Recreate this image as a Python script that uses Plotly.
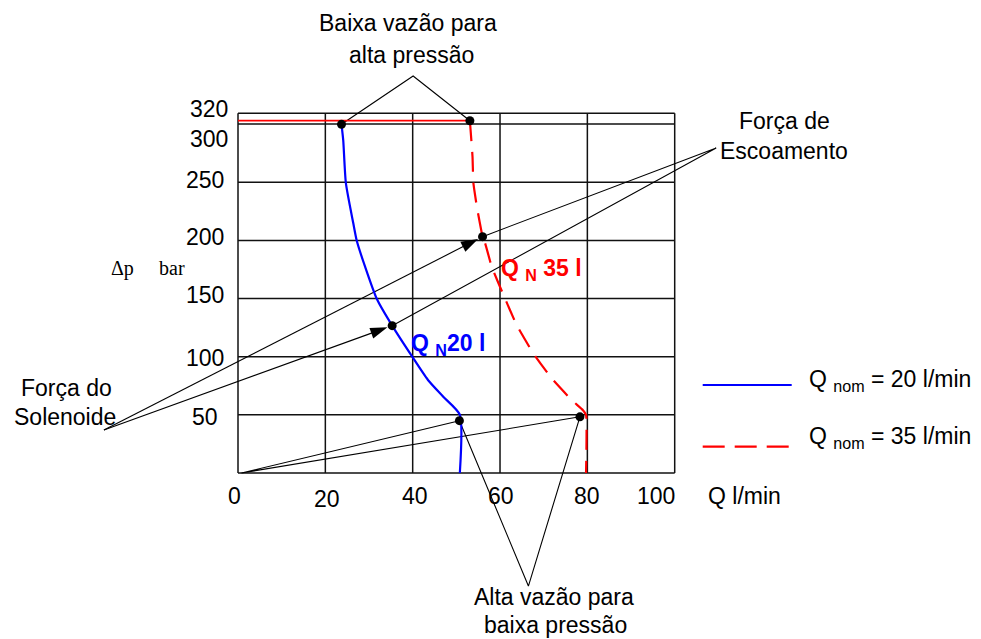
import math
import plotly.graph_objects as go

# ---------------- data (Q in l/min, delta p in bar) ----------------
# Q_nom = 20 l/min characteristic (solid blue)
Q20 = [23.7, 24.1, 24.7, 26.4, 27.2, 29.1, 31.8, 35.3, 39.9, 43.5, 47.0, 50.8, 50.8]
DP20 = [299.8, 286.0, 249.4, 214.7, 199.7, 177.4, 149.6, 126.7, 100.0, 80.0, 65.6, 50.1, 0.0]

# Q_nom = 35 l/min characteristic (dashed red)
Q35 = [53.1, 53.7, 53.9, 54.7, 56.0, 56.6, 58.1, 60.8, 63.8, 67.6, 71.8, 76.4, 79.0, 79.7, 79.7]
DP35 = [302.9, 272.0, 249.4, 229.0, 203.2, 197.5, 177.4, 153.0, 127.3, 103.0, 81.5, 62.8, 54.0, 50.0, 0.0]

# pressure-limit line (solid red, thin)
LIMIT_Q = [0.0, 53.1]
LIMIT_DP = [303.0, 303.0]

# marked points on the curves
PT_NAMES = ["baixa20", "baixa35", "mid35", "mid20", "alta20", "alta35"]
PT_Q = [23.7, 53.1, 56.0, 35.3, 50.7, 78.3]
PT_DP = [299.8, 302.9, 203.2, 126.7, 45.0, 48.3]

# points where the leader lines of each callout meet
CALLOUT_BAIXA = (40.1, 341.4)
CALLOUT_ESCOAMENTO = (109.5, 279.4)
CALLOUT_SOLENOIDE = (-30.7, 37.0)
CALLOUT_ORIGEM = (0.8, 0.0)
CALLOUT_ALTA = (66.5, -97.2)

# axes / grid
X_TICKS = [0, 20, 40, 60, 80, 100]
X_TICK_TEXT = ["0", "20", "40", "60", "80", "100"]
Y_GRID = [0, 50, 100, 150, 200, 250, 300]
Y_TICKS = [50, 100, 150, 200, 250, 300, 320]
Y_TICK_TEXT = ["50", "100", "150", "200", "250", "300", "320"]
Y_TOP = 309.3

LEGEND_TEXT = ["Q <sub>nom</sub> = 20 l/min", "Q <sub>nom</sub> = 35 l/min"]
CURVE_LABELS = ["Q <sub>N</sub>20 l", "Q <sub>N</sub> 35 l"]

# ---------------- layout helpers ----------------
W, H = 981, 639
X0_PX, Y0_PX = 238.0, 473.0      # pixel position of (0, 0)
PXX, PXY = 4.367, 1.163          # pixels per data unit
XR = [-X0_PX / PXX, (W - X0_PX) / PXX]
YR = [-(H - Y0_PX) / PXY, Y0_PX / PXY]

FONT = "Liberation Sans, Arial, sans-serif"
BLUE = "#0000ff"
RED = "#ff0000"


def paper(px, py):
    return px / W, 1 - py / H


pts = {n: (q, p) for n, q, p in zip(PT_NAMES, PT_Q, PT_DP)}

fig = go.Figure()

# grid as shapes in data coordinates
shapes = []
for xv in X_TICKS:
    shapes.append(dict(type="line", xref="x", yref="y", x0=xv, x1=xv, y0=0, y1=Y_TOP,
                       line=dict(color="#111", width=1.5), layer="below"))
for yv in Y_GRID + [Y_TOP]:
    shapes.append(dict(type="line", xref="x", yref="y", x0=0, x1=100, y0=yv, y1=yv,
                       line=dict(color="#111", width=1.5), layer="below"))

# leader lines (thin black)
leader_style = dict(color="black", width=1.1)


def leader(a, via, b):
    fig.add_trace(go.Scatter(x=[a[0], via[0], b[0]], y=[a[1], via[1], b[1]], mode="lines",
                             line=leader_style, hoverinfo="skip", showlegend=False))


leader(pts["baixa20"], CALLOUT_BAIXA, pts["baixa35"])
leader(pts["mid20"], CALLOUT_ESCOAMENTO, pts["mid35"])
leader(pts["alta20"], CALLOUT_ORIGEM, pts["alta35"])
leader(pts["alta20"], CALLOUT_ALTA, pts["alta35"])

# solenoid-force arrows
STANDOFF_PX = 5.0
for name in ["mid35", "mid20"]:
    tx, ty = pts[name]
    sx, sy = CALLOUT_SOLENOIDE
    dxp, dyp = (sx - tx) * PXX, (sy - ty) * PXY
    frac = STANDOFF_PX / math.hypot(dxp, dyp)
    tipx, tipy = tx + (sx - tx) * frac, ty + (sy - ty) * frac
    fig.add_trace(go.Scatter(
        x=[sx, tipx], y=[sy, tipy], mode="lines+markers",
        line=leader_style,
        marker=dict(symbol=["circle", "arrow"], size=[1, 18], opacity=[0, 1],
                    angleref="previous", color="black", line=dict(width=0)),
        hoverinfo="skip", showlegend=False))

# curves
fig.add_trace(go.Scatter(x=LIMIT_Q, y=LIMIT_DP, mode="lines",
                         line=dict(color=RED, width=1.6), showlegend=False, hoverinfo="skip"))
fig.add_trace(go.Scatter(x=Q20, y=DP20, mode="lines",
                         line=dict(color=BLUE, width=2.2, shape="spline", smoothing=0.6),
                         showlegend=False, name="Q nom = 20 l/min"))
fig.add_trace(go.Scatter(x=Q35, y=DP35, mode="lines",
                         line=dict(color=RED, width=2.2, dash="20px,11px", shape="spline", smoothing=0.4),
                         showlegend=False, name="Q nom = 35 l/min"))

# marked points
fig.add_trace(go.Scatter(x=PT_Q, y=PT_DP, mode="markers",
                         marker=dict(color="black", size=9), showlegend=False, hoverinfo="skip"))

annotations = []


def text(t, x, y, ref="paper", size=23, xanchor="center", color="black", family=FONT, weight="normal",
         xshift=0, yshift=0):
    annotations.append(dict(x=x, y=y, xref="x" if ref == "data" else "paper",
                            yref="y" if ref == "data" else "paper", text=t, showarrow=False,
                            xanchor=xanchor, yanchor="middle", xshift=xshift, yshift=yshift,
                            font=dict(family=family, size=size, color=color, weight=weight)))


# x tick labels
x_off = {"0": (-4, 0), "20": (2, -3), "40": (2, 0), "60": (1, 0), "80": (0, 0), "100": (-19, 0)}
for xv, t in zip(X_TICKS, X_TICK_TEXT):
    dx, dy = x_off[t]
    text(t, xv, 0, ref="data", xshift=dx, yshift=-22.5 + dy)
text("Q l/min", 100, 0, ref="data", xshift=744 - 674.7, yshift=-22.5)

# y tick labels
y_off = {"50": (-33, -2.3), "100": (-33, -1.6), "150": (-33, 3.5), "200": (-33, 3.7),
         "250": (-33, 2.5), "300": (-29.5, -15), "320": (-29.5, -8.5)}
for yv, t in zip(Y_TICKS, Y_TICK_TEXT):
    dx, dy = y_off[t]
    text(t, 0, yv, ref="data", xshift=dx, yshift=dy)

# axis title "Δp bar"
for t, px in [("Δp", 123), ("bar", 172)]:
    x, y = paper(px, 268)
    text(t, x, y, size=20, family="Liberation Serif, Times New Roman, serif")

# callout texts
CALLOUT_TEXT = [("Baixa vazão para", 407.5, 23.3), ("alta pressão", 411, 55),
                ("Força de", 784, 121), ("Escoamento", 784, 151),
                ("Força do", 66, 388), ("Solenoide", 65.3, 416.7),
                ("Alta vazão para", 554, 596.5), ("baixa pressão", 555, 625)]
for t, px, py in CALLOUT_TEXT:
    x, y = paper(px, py)
    text(t, x, y)

# curve labels
for t, px, py, col in [(CURVE_LABELS[0], 409, 344, BLUE), (CURVE_LABELS[1], 499, 269, RED)]:
    x, y = paper(px, py)
    text(t, x, y, size=23, xanchor="left", color=col, weight="bold")

# manual legend
for t, py_line, py_text, col, dash in [(LEGEND_TEXT[0], 385, 380, BLUE, "solid"),
                                        (LEGEND_TEXT[1], 446.7, 437.5, RED, "22px,10px")]:
    x0, y0 = paper(702.7, py_line)
    x1, _ = paper(791.7, py_line)
    shapes.append(dict(type="line", xref="paper", yref="paper", x0=x0, x1=x1, y0=y0, y1=y0,
                       line=dict(color=col, width=2.2, dash=dash)))
    x, y = paper(807, py_text)
    text(t, x, y, xanchor="left")

fig.update_layout(
    width=W, height=H,
    margin=dict(l=0, r=0, t=0, b=0),
    paper_bgcolor="white", plot_bgcolor="white",
    xaxis=dict(range=XR, visible=False, fixedrange=True),
    yaxis=dict(range=YR, visible=False, fixedrange=True),
    shapes=shapes, annotations=annotations,
    showlegend=False,
)

fig.write_html("out.html", config={"displayModeBar": False})
